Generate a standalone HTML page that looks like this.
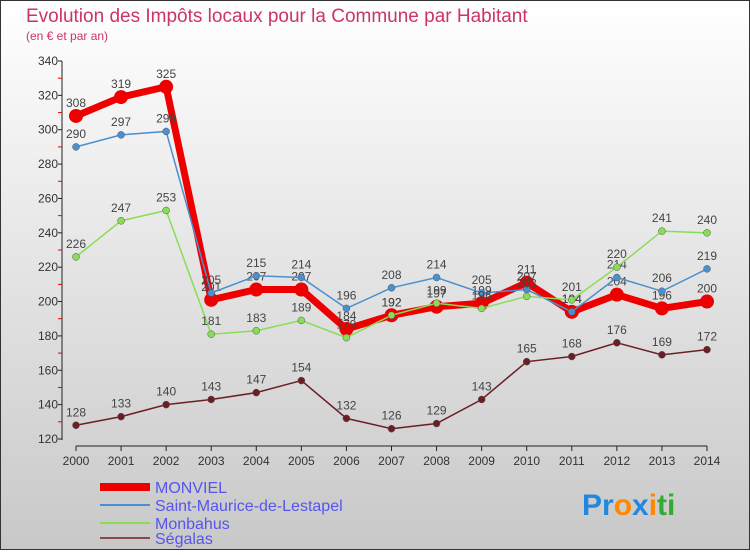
<!DOCTYPE html>
<html><head><meta charset="utf-8"><style>
body{margin:0;width:750px;height:550px;overflow:hidden;font-family:"Liberation Sans",sans-serif}
svg text{font-family:"Liberation Sans",sans-serif}
</style></head><body>
<svg id="c" width="750" height="550">
<defs><linearGradient id="bg" x1="0" y1="0" x2="0" y2="1"><stop offset="0" stop-color="#ffffff"/><stop offset="1" stop-color="#c8c8c8"/></linearGradient></defs>
<rect x="0.5" y="0.5" width="749" height="549" fill="url(#bg)" stroke="#333"/>
<text x="26" y="22" font-size="19" fill="#cc3366">Evolution des Impôts locaux pour la Commune par Habitant</text>
<text x="26" y="40" font-size="12" fill="#cc3366">(en € et par an)</text>
<g id="axes"></g><g id="series"></g><g id="legend"></g>
<text x="582" y="515" font-size="30" font-weight="bold"><tspan fill="#2288dd">Pr</tspan><tspan fill="#ff8800">o</tspan><tspan fill="#2288dd">x</tspan><tspan fill="#ff8800">i</tspan><tspan fill="#33aa33">ti</tspan></text>
</svg>
<script>
const years=[2000,2001,2002,2003,2004,2005,2006,2007,2008,2009,2010,2011,2012,2013,2014];
const monviel=[308,319,325,201,207,207,184,192,197,199,211,194,204,196,200];
const stMaurice=[290,297,299,205,215,214,196,208,214,205,207,194,214,206,219];
const monbahus=[226,247,253,181,183,189,179,192,199,196,203,201,220,241,240];
const segalas=[128,133,140,143,147,154,132,126,129,143,165,168,176,169,172];
const yTicks=[120,140,160,180,200,220,240,260,280,300,320,340];
const NS="http://www.w3.org/2000/svg";
const X=i=>76+i*(707-76)/(years.length-1);
const Y=v=>439-(v-120)*(439-61)/220;
function mk(t,a,p){const e=document.createElementNS(NS,t);for(const k in a)e.setAttribute(k,a[k]);p.appendChild(e);return e;}
const ax=document.getElementById('axes');
let l=mk('line',{x1:62,y1:61,x2:62,y2:440,stroke:'#222'},ax);


yTicks.forEach((v,i)=>{
 const t=mk('text',{x:58,y:Y(v)+4,'font-size':12,fill:'#333','text-anchor':'end'},ax);t.textContent=v;
 
 
 mk('line',{x1:58,y1:Y(v),x2:62,y2:Y(v),stroke:'#222'},ax);
 if(i<yTicks.length-1)mk('line',{x1:58,y1:Y(v+10),x2:62,y2:Y(v+10),stroke:'#e00'},ax);
});
l=mk('line',{x1:76,y1:446,x2:707,y2:446,stroke:'#222'},ax);


years.forEach((y,i)=>{
 mk('line',{x1:X(i),y1:446,x2:X(i),y2:451,stroke:'#222'},ax);
 const t=mk('text',{x:X(i),y:465,'font-size':12,fill:'#333','text-anchor':'middle'},ax);t.textContent=y;
 
 
});
const S=document.getElementById('series');
const defs=[
 {d:segalas,c:'#6b1f24',w:1.5,r:3.5,n:'segalas'},
 {d:monbahus,c:'#88dd55',w:1.5,r:3.5,n:'monbahus'},
 {d:stMaurice,c:'#4a90d0',w:1.5,r:3.5,n:'saint-maurice'},
 {d:monviel,c:'#ee0000',w:7,r:7,n:'monviel'}];
const order=[3,2,1,0];
order.forEach(k=>{const s=defs[k];
 const g=mk('g',{},S);
 
 
 const p=mk('polyline',{points:s.d.map((v,i)=>X(i)+','+Y(v)).join(' '),fill:'none',stroke:s.c,'stroke-width':s.w},g);
 
 
 s.d.forEach((v,i)=>{
  const c=mk('circle',{cx:X(i),cy:Y(v),r:s.r,fill:s.c,stroke:k==3?'none':'#555','stroke-width':0.5},g);
  
  
  const t=mk('text',{x:X(i),y:Y(v)-9,'font-size':12,fill:'#444','text-anchor':'middle'},g);t.textContent=v;
  
  
 });
});
const L=document.getElementById('legend');
const leg=[['MONVIEL','#ee0000',8,492],['Saint-Maurice-de-Lestapel','#4a90d0',2,510],['Monbahus','#88dd55',2,528],['Ségalas','#8a4a4a',2,543]];
leg.forEach(e=>{
 const g=mk('g',{},L);
 
 
 mk('line',{x1:100,y1:e[3]-5,x2:150,y2:e[3]-5,stroke:e[1],'stroke-width':e[2]},g);
 const t=mk('text',{x:155,y:e[3]+1,'font-size':16,fill:'#5555ee'},g);t.textContent=e[0];
});
</script>
</body></html>
